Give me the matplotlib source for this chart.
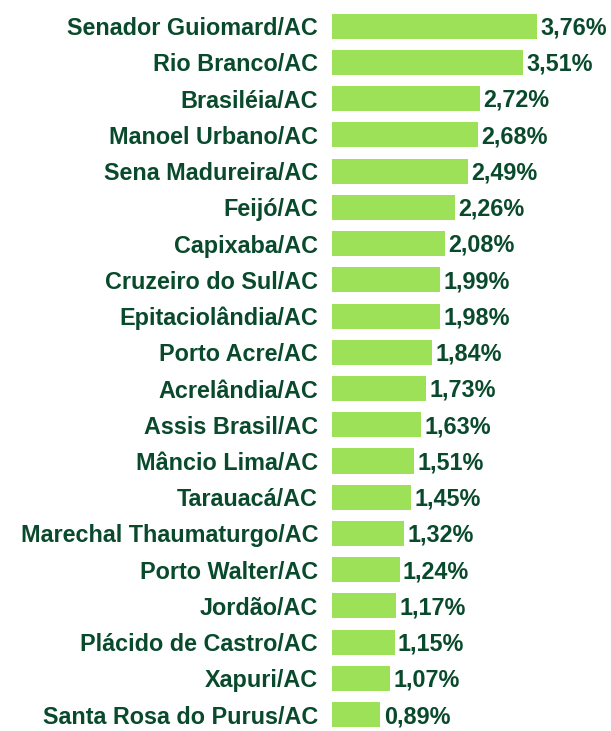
import matplotlib.pyplot as plt

cities = [
    "Senador Guiomard/AC", "Rio Branco/AC", "Brasiléia/AC", "Manoel Urbano/AC",
    "Sena Madureira/AC", "Feijó/AC", "Capixaba/AC", "Cruzeiro do Sul/AC",
    "Epitaciolândia/AC", "Porto Acre/AC", "Acrelândia/AC", "Assis Brasil/AC",
    "Mâncio Lima/AC", "Tarauacá/AC", "Marechal Thaumaturgo/AC", "Porto Walter/AC",
    "Jordão/AC", "Plácido de Castro/AC", "Xapuri/AC", "Santa Rosa do Purus/AC",
]
values = [3.76, 3.51, 2.72, 2.68, 2.49, 2.26, 2.08, 1.99, 1.98, 1.84,
          1.73, 1.63, 1.51, 1.45, 1.32, 1.24, 1.17, 1.15, 1.07, 0.89]

BAR = "#9de159"
TXT = "#0a4a2c"
FS = 16.8

plt.rcParams["font.family"] = ["Liberation Sans", "DejaVu Sans"]

fig = plt.figure(figsize=(6.11, 7.31), dpi=100)
ax = fig.add_axes([332 / 611, 0, 279 / 611, 1])

pos = list(range(len(cities)))
ax.barh(pos, values, height=0.69, color=BAR)
for y, v in zip(pos, values):
    ax.text(v + 0.06, y + 0.05, f"{v:.2f}%".replace(".", ","), va="center", ha="left",
            fontsize=FS, fontweight="bold", color=TXT)

ax.set_xlim(0, 5.12)
ax.set_ylim(19.45, -0.72)
ax.set_yticks(pos)
ax.set_yticklabels(cities, fontsize=FS, fontweight="bold", color=TXT)
ax.tick_params(axis="y", length=0, pad=10)
ax.set_xticks([])
for s in ax.spines.values():
    s.set_visible(False)

fig.savefig("out.png", dpi=100)
